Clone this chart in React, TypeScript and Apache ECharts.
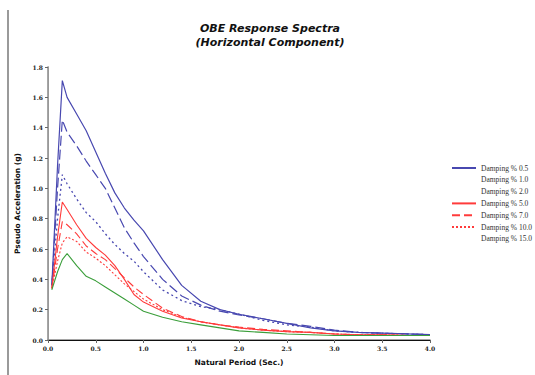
import React, { useEffect, useRef } from "react";
import * as echarts from "echarts";

const periods = [0.04, 0.1, 0.15, 0.2, 0.3, 0.4, 0.5, 0.6, 0.7, 0.8, 0.9, 1.0, 1.2, 1.4, 1.6, 1.8, 2.0, 2.25, 2.5, 2.75, 3.0, 3.25, 3.5, 3.75, 4.0];

const damp05 = [0.36, 1.15, 1.71, 1.6, 1.49, 1.38, 1.24, 1.1, 0.97, 0.87, 0.79, 0.72, 0.53, 0.36, 0.255, 0.2, 0.17, 0.14, 0.11, 0.08, 0.06, 0.05, 0.045, 0.04, 0.035];
const damp10 = [0.36, 1.0, 1.45, 1.37, 1.28, 1.18, 1.09, 1.0, 0.87, 0.74, 0.64, 0.55, 0.4, 0.29, 0.23, 0.19, 0.165, 0.14, 0.11, 0.09, 0.065, 0.05, 0.045, 0.04, 0.035];
const damp20 = [0.36, 0.8, 1.09, 1.03, 0.93, 0.84, 0.78, 0.7, 0.63, 0.57, 0.52, 0.45, 0.33, 0.26, 0.22, 0.2, 0.17, 0.13, 0.1, 0.085, 0.06, 0.05, 0.045, 0.04, 0.035];
const damp50 = [0.34, 0.68, 0.91, 0.86, 0.76, 0.67, 0.61, 0.56, 0.49, 0.4, 0.3, 0.25, 0.19, 0.145, 0.12, 0.1, 0.08, 0.065, 0.055, 0.05, 0.04, 0.035, 0.035, 0.03, 0.03];
const damp70 = [0.34, 0.6, 0.78, 0.76, 0.7, 0.62, 0.57, 0.53, 0.47, 0.41, 0.35, 0.3, 0.21, 0.155, 0.12, 0.1, 0.085, 0.07, 0.06, 0.05, 0.04, 0.035, 0.035, 0.03, 0.03];
const damp100 = [0.34, 0.52, 0.64, 0.68, 0.65, 0.58, 0.54, 0.49, 0.43, 0.37, 0.32, 0.27, 0.2, 0.15, 0.12, 0.1, 0.08, 0.065, 0.055, 0.05, 0.04, 0.035, 0.035, 0.03, 0.03];
const damp150 = [0.33, 0.45, 0.53, 0.57, 0.49, 0.42, 0.39, 0.35, 0.31, 0.27, 0.23, 0.19, 0.15, 0.12, 0.1, 0.08, 0.06, 0.05, 0.04, 0.035, 0.03, 0.03, 0.03, 0.03, 0.03];

const seriesNames = ["Damping % 0.5", "Damping % 1.0", "Damping % 2.0", "Damping % 5.0", "Damping % 7.0", "Damping % 10.0", "Damping % 15.0"];
const xTicks = [0, 0.5, 1.0, 1.5, 2.0, 2.5, 3.0, 3.5, 4.0];

const BLUE = "#4848b0";
const RED = "#ff3b3b";
const GREEN = "#3a9e3a";

export default function App() {
  const ref = useRef<HTMLDivElement>(null);
  useEffect(() => {
    if (!ref.current) return;
    const chart = echarts.init(ref.current, undefined, { renderer: "svg" });
    const values = [damp05, damp10, damp20, damp50, damp70, damp100, damp150];
    const styles: any[] = [
      { color: BLUE, type: "solid", width: 1.2 },
      { color: BLUE, type: [10, 4], width: 1.2 },
      { color: BLUE, type: [2, 3], width: 1.3 },
      { color: RED, type: "solid", width: 1.1 },
      { color: RED, type: [8, 4], width: 1.1 },
      { color: RED, type: [2, 2], width: 1.1 },
      { color: GREEN, type: "solid", width: 1.1 },
    ];
    const series = values.map((vals, i) => ({
      name: seriesNames[i],
      type: "line",
      xAxisIndex: 0,
      yAxisIndex: 0,
      showSymbol: false,
      symbol: "none",
      data: periods.map((p, j) => [p, vals[j]]),
      lineStyle: styles[i],
      itemStyle: { color: styles[i].color },
    }));
    const hiddenIcon = [false, true, true, false, false, false, true];
    chart.setOption({
      animation: false,
      backgroundColor: "#ffffff",
      title: {
        text: "OBE Response Spectra\n(Horizontal Component)",
        left: 265,
        top: 16,
        textAlign: "center",
        textStyle: {
          fontFamily: "DejaVu Sans",
          fontSize: 11,
          fontWeight: "bold",
          fontStyle: "italic",
          color: "#111",
          lineHeight: 14,
        },
      },
      legend: {
        orient: "vertical",
        left: 451,
        top: 164,
        padding: 0,
        itemWidth: 24,
        itemHeight: 8,
        itemGap: 3.8,
        data: seriesNames.map((n, i) =>
          hiddenIcon[i]
            ? { name: n, itemStyle: { opacity: 0 }, lineStyle: { opacity: 0 } }
            : { name: n, itemStyle: { opacity: 0 } }
        ),
        textStyle: { fontFamily: "Liberation Serif", fontSize: 7.5, color: "#333" },
      },
      graphic: [
        {
          type: "line",
          shape: { x1: 8, y1: 10, x2: 8, y2: 375 },
          style: { stroke: "#9a9a9a", lineWidth: 2 },
        },
      ],
      grid: { left: 48, right: 105, top: 67, bottom: 35 },
      xAxis: [
        {
          type: "value",
          min: 0,
          max: 4,
          interval: 0.5,
          name: "Natural Period (Sec.)",
          nameLocation: "middle",
          nameGap: 18,
          nameTextStyle: { fontFamily: "DejaVu Sans", fontSize: 7.5, fontWeight: "bold", color: "#111" },
          axisLine: { show: true, lineStyle: { color: "#888", width: 1.5 } },
          axisTick: { show: true, length: 3, inside: false, lineStyle: { color: "#666" } },
          axisLabel: {
            formatter: (v: number) => (xTicks.includes(v) ? v.toFixed(1) : ""),
            fontFamily: "DejaVu Serif",
            fontSize: 6,
            fontWeight: "bold",
            color: "#222",
            margin: 5,
          },
          splitLine: { show: false },
        },
        {
          type: "value",
          position: "top",
          min: 0,
          max: 4,
          axisLine: { show: true, lineStyle: { color: "#111", width: 1.2 } },
          axisTick: { show: false },
          axisLabel: { show: false },
          splitLine: { show: false },
        },
      ],
      yAxis: [
        {
          type: "value",
          min: 0,
          max: 1.8,
          interval: 0.2,
          name: "Pseudo Acceleration (g)",
          nameLocation: "middle",
          nameGap: 21,
          nameTextStyle: { fontFamily: "DejaVu Sans", fontSize: 7.5, fontWeight: "bold", color: "#111" },
          axisLine: { show: true, lineStyle: { color: "#888", width: 1.5 } },
          axisTick: { show: true, length: 3, lineStyle: { color: "#666" } },
          axisLabel: {
            formatter: (v: number) => v.toFixed(1),
            fontFamily: "DejaVu Serif",
            fontSize: 6,
            fontWeight: "bold",
            color: "#222",
            margin: 5,
          },
          splitLine: { show: false },
        },
        {
          type: "value",
          position: "right",
          min: 0,
          max: 1.8,
          axisLine: { show: true, lineStyle: { color: "#999", width: 1 } },
          axisTick: { show: false },
          axisLabel: { show: false },
          splitLine: { show: false },
        },
      ],
      series,
    });
    return () => chart.dispose();
  }, []);
  return (
    <div
      ref={ref}
      style={{ position: "fixed", left: 0, top: 0, width: 535, height: 375 }}
    />
  );
}
